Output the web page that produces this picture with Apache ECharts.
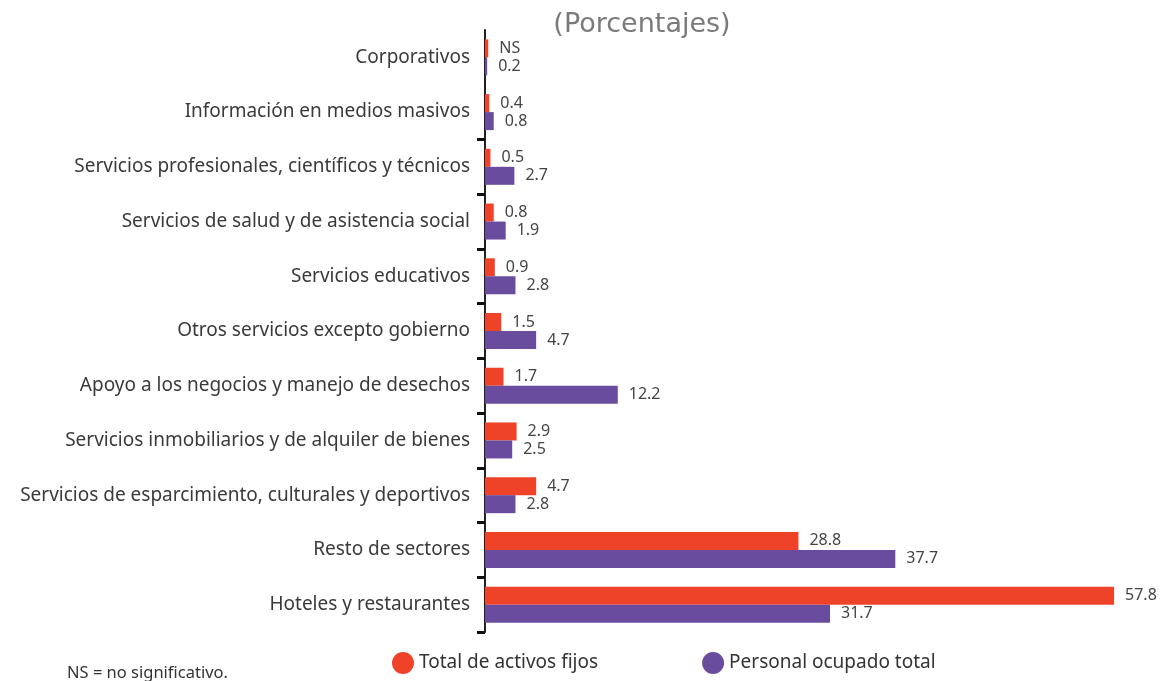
<!DOCTYPE html>
<html>
<head>
<meta charset="utf-8">
<script src="https://cdn.jsdelivr.net/npm/echarts@6/dist/echarts.min.js"></script>
<style>
  html, body { margin: 0; padding: 0; background: #fff; }
  #chart { width: 1162px; height: 681px; }
</style>
</head>
<body>
<div id="chart"></div>
<script>
// sectores, de arriba hacia abajo
var sectores = [
  'Corporativos',
  'Información en medios masivos',
  'Servicios profesionales, científicos y técnicos',
  'Servicios de salud y de asistencia social',
  'Servicios educativos',
  'Otros servicios excepto gobierno',
  'Apoyo a los negocios y manejo de desechos',
  'Servicios inmobiliarios y de alquiler de bienes',
  'Servicios de esparcimiento, culturales y deportivos',
  'Resto de sectores',
  'Hoteles y restaurantes'
]
// NS = no significativo (valor muy pequeño, se dibuja una barra mínima)
var activosFijos = [0.3, 0.4, 0.5, 0.8, 0.9, 1.5, 1.7, 2.9, 4.7, 28.8, 57.8]
var personalOcupado = [0.2, 0.8, 2.7, 1.9, 2.8, 4.7, 12.2, 2.5, 2.8, 37.7, 31.7]
var etiquetasActivos = ['NS', '0.4', '0.5', '0.8', '0.9', '1.5', '1.7', '2.9', '4.7', '28.8', '57.8']

var rojo = '#ee4229'
var morado = '#6a4c9e'
var fuente = 'Noto Sans'

var chart = echarts.init(document.getElementById('chart'))

chart.setOption({
  animation: false,
  title: {
    text: '(Porcentajes)',
    left: 637,
    textAlign: 'center',
    top: 6,
    textStyle: { fontFamily: 'DejaVu Sans', fontSize: 27, fontWeight: 'normal', color: '#7a7a7a' }
  },
  legend: {
    left: 387,
    top: 647,
    itemGap: 104,
    itemWidth: 22,
    itemHeight: 22,
    icon: 'circle',
    textStyle: { fontFamily: fuente, fontSize: 19, color: '#333' },
    data: ['Total de activos fijos', 'Personal ocupado total']
  },
  graphic: [{
    type: 'text',
    left: 67,
    top: 665,
    style: { text: 'NS = no significativo.', font: '16.5px "Noto Sans"', fill: '#333' }
  }],
  grid: { left: 485, right: 24, top: 30, bottom: 49 },
  xAxis: {
    type: 'value',
    min: 0,
    max: 60,
    show: false
  },
  yAxis: {
    type: 'category',
    inverse: true,
    data: sectores,
    axisLine: { lineStyle: { color: '#222', width: 2 } },
    axisTick: {
      show: true,
      // sin marca arriba ni entre los dos primeros sectores
      interval: function (i, v) { return v !== sectores[0] && v !== sectores[1] },
      length: 8,
      lineStyle: { color: '#111', width: 3 }
    },
    axisLabel: { margin: 15, fontFamily: fuente, fontSize: 19, color: '#3a3a3a' }
  },
  series: [
    {
      name: 'Total de activos fijos',
      type: 'bar',
      data: activosFijos,
      barWidth: 18,
      barGap: '0%',
      itemStyle: { color: rojo },
      label: {
        show: true,
        position: 'right',
        distance: 11,
        fontFamily: fuente,
        fontSize: 16,
        color: '#444',
        formatter: function (p) { return etiquetasActivos[p.dataIndex] }
      }
    },
    {
      name: 'Personal ocupado total',
      type: 'bar',
      data: personalOcupado,
      barWidth: 18,
      itemStyle: { color: morado },
      label: {
        show: true,
        position: 'right',
        distance: 11,
        fontFamily: fuente,
        fontSize: 16,
        color: '#444'
      }
    }
  ]
})
</script>
</body>
</html>
